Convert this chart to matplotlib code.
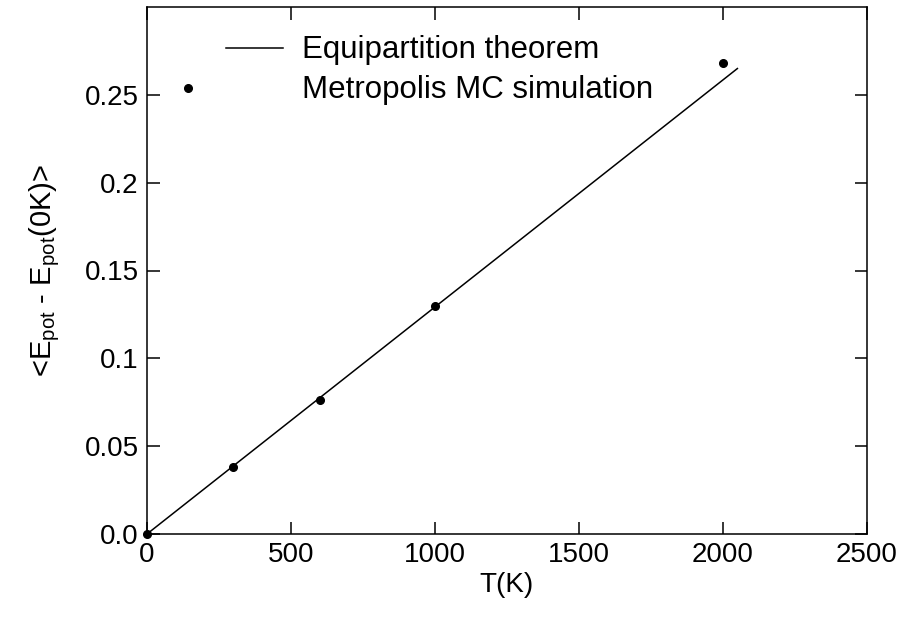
import numpy as np
import matplotlib
matplotlib.use("Agg")
import matplotlib.pyplot as plt
from matplotlib.legend_handler import HandlerLine2D

plt.rcParams["font.family"] = ["Liberation Sans", "DejaVu Sans"]
plt.rcParams["mathtext.default"] = "regular"

KB = 8.617e-5  # Boltzmann constant, eV/K

# equipartition line: <E_pot> = 3/2 kB T
T_theory = [0, 2050]
E_theory = [1.5 * KB * t for t in T_theory]

# Metropolis MC results
T_mc = [0, 300, 600, 1000, 2000]
E_mc = [0.0, 0.038, 0.076, 0.130, 0.268]

xticks = [0, 500, 1000, 1500, 2000, 2500]
yticks = [0.0, 0.05, 0.1, 0.15, 0.2, 0.25]
ytick_labels = ["0.0", "0.05", "0.1", "0.15", "0.2", "0.25"]


class LineRight(HandlerLine2D):
    # line only in the right part of the handle box
    def get_xdata(self, legend, xdescent, ydescent, width, height, fontsize):
        xd = np.array([-xdescent + 0.45 * width, -xdescent + width])
        return xd, xd


class DotLeft(HandlerLine2D):
    # dot at the far left of the handle box
    def get_xdata(self, legend, xdescent, ydescent, width, height, fontsize):
        xd = np.array([-xdescent + 0.08 * width])
        return xd, xd


fig = plt.figure(figsize=(9.05, 6.21), dpi=100)
ax = fig.add_axes([147 / 905, 1 - 534 / 621, 720 / 905, 527 / 621])

line, = ax.plot(T_theory, E_theory, color="black", lw=1.1,
                label="Equipartition theorem")
dots, = ax.plot(T_mc, E_mc, "o", color="black", ms=5.5, ls="none",
                label="Metropolis MC simulation", clip_on=False)

ax.set_xlim(0, 2500)
ax.set_ylim(0, 0.3)
ax.set_xticks(xticks)
ax.set_yticks(yticks)
ax.set_yticklabels(ytick_labels)
ax.tick_params(direction="in", length=9, width=1.1, labelsize=20,
               top=True, right=True, pad=6)
for s in ax.spines.values():
    s.set_linewidth(1.1)

ax.set_xlabel("T(K)", fontsize=20, labelpad=3)
ax.set_ylabel("<E$_{pot}$ - E$_{pot}$(0K)>", fontsize=21, labelpad=16)

ax.legend(handles=[line, dots], loc="upper left",
          bbox_to_anchor=(33 / 720, 0.946), frameon=False,
          fontsize=22.5, handlelength=3.3, handletextpad=0.62,
          borderpad=0, borderaxespad=0, labelspacing=0.32,
          handler_map={line: LineRight(), dots: DotLeft(numpoints=1)})

fig.savefig("out.png", dpi=100)
